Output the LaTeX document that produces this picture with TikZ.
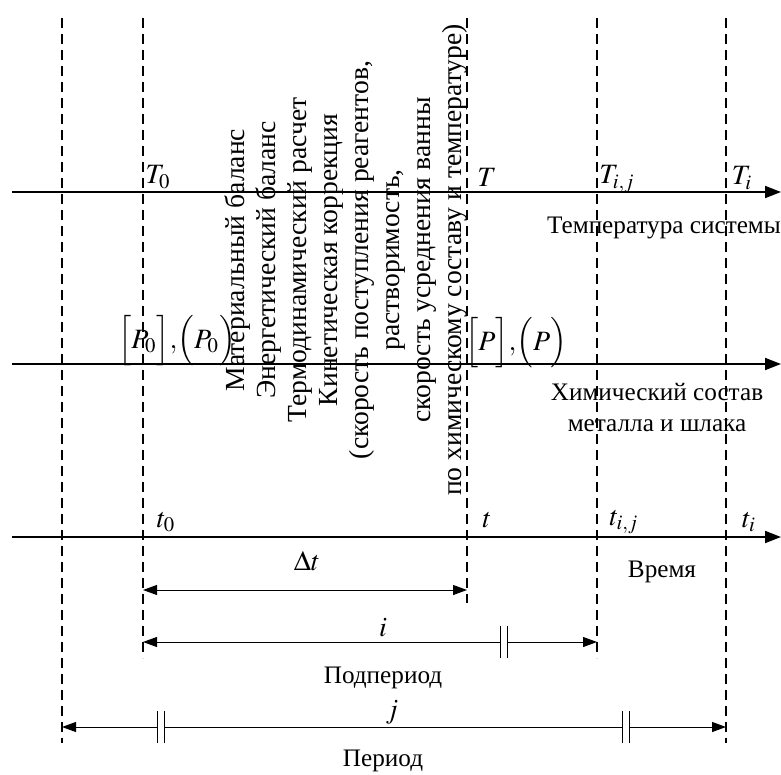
\documentclass[tikz,border=0pt]{standalone}
\usepackage{mathptmx}
\usepackage{fontspec}
\setmainfont{Liberation Serif}
\usetikzlibrary{arrows.meta}

\begin{document}
\begin{tikzpicture}[x=0.5pt, y=-0.5pt]

\tikzset{%
every node/.style={inner sep=0pt, font=\fontsize{12.6}{15.5}\selectfont},%
axis/.style={-{Triangle[length=8pt, width=6pt]}, line width=.9pt},%
guide/.style={line width=.8pt, dash pattern=on 5pt off 3pt},%
dim/.style={line width=.5pt},%
tipL/.style={{Triangle[length=7pt, width=5pt]}-},%
tipR/.style={-{Triangle[length=7pt, width=5pt]}},%
tipLR/.style={{Triangle[length=7pt, width=5pt]}-{Triangle[length=7pt, width=5pt]}},%
brk/.style={line width=.5pt},%
mathlbl/.style={font=\fontsize{14}{16}\selectfont}%
}

\useasboundingbox (0,0) rectangle (781,775);

% vertical guides
\coordinate (g1t) at (62,18);  \coordinate (g1b) at (62,743);
\coordinate (g2t) at (143,18); \coordinate (g2b) at (143,658);
\coordinate (g3t) at (467,18); \coordinate (g3b) at (467,603);
\coordinate (g4t) at (597,18); \coordinate (g4b) at (597,658);
\coordinate (g5t) at (726,18); \coordinate (g5b) at (726,743);
\draw[guide] (g1t) -- (g1b);
\draw[guide] (g2t) -- (g2b);
\draw[guide] (g3t) -- (g3b);
\draw[guide] (g4t) -- (g4b);
\draw[guide] (g5t) -- (g5b);

% axes
\coordinate (tempL) at (12,192); \coordinate (tempR) at (781,192);
\coordinate (chemL) at (12,364); \coordinate (chemR) at (781,364);
\coordinate (timeL) at (12,537); \coordinate (timeR) at (781,537);
\draw[axis] (tempL) -- (tempR);
\draw[axis] (chemL) -- (chemR);
\draw[axis] (timeL) -- (timeR);

\node[mathlbl] (T0) at (158,177) {$T_0$};
\node[mathlbl] (T) at (487,177) {$T$};
\node[mathlbl] (Tij) at (617,179) {$T_{i,j}$};
\node[mathlbl] (Ti) at (742,178) {$T_i$};
\node (temp) at (664,228) {Температура системы};

\node[mathlbl] (P0) at (177,341) {$\Bigl[P_0\Bigr]{,}\Bigl(P_0\Bigr)$};
\node[mathlbl] (P) at (516,343) {$\Bigl[P\Bigr]{,}\Bigl(P\Bigr)$};
\node[align=center] (chem) at (657,407) {Химический состав\\металла и шлака};

\node[mathlbl] (t0) at (166,522) {$t_0$};
\node[mathlbl] (t) at (487,520) {$t$};
\node[mathlbl] (tij) at (624,522) {$t_{i,j}$};
\node[mathlbl] (ti) at (749,522) {$t_i$};
\node (time) at (662,572) {Время};

% calculation steps
\node[rotate=90, align=center, font=\fontsize{13.8}{15.5}\selectfont] (calc) at (346,260) {Материальный баланс\\
Энергетический баланс\\
Термодинамический расчет\\
Кинетическая коррекция\\
(скорость поступления реагентов,\\
растворимость,\\
скорость усреднения ванны\\
по химическому составу и температуре)};

% step dt
\coordinate (dtL) at (143,590); \coordinate (dtR) at (467,590);
\draw[dim, tipLR] (dtL) -- (dtR);
\node[mathlbl] (dt) at (307,561) {$\Delta t$};

% subperiod i
\coordinate (iL) at (143,642); \coordinate (iR) at (597,642);
\coordinate (iB1) at (500,642); \coordinate (iB2) at (507,642);
\draw[dim, tipL] (iL) -- (iB1);
\draw[dim, tipR] (iB2) -- (iR);
\draw[brk] ([yshift=-8pt]iB1) -- ([yshift=8pt]iB1);
\draw[brk] ([yshift=-8pt]iB2) -- ([yshift=8pt]iB2);
\node[mathlbl] (i) at (383,628) {$i$};
\node (sub) at (383,678) {Подпериод};

% period j
\coordinate (jL) at (62,727); \coordinate (jR) at (726,727);
\coordinate (jB1) at (157,727); \coordinate (jB2) at (164,727);
\coordinate (jB3) at (622,727); \coordinate (jB4) at (629,727);
\draw[dim, tipL] (jL) -- (jB1);
\draw[dim] (jB2) -- (jB3);
\draw[dim, tipR] (jB4) -- (jR);
\foreach \b in {jB1,jB2,jB3,jB4}
  \draw[brk] ([yshift=-8pt]\b) -- ([yshift=8pt]\b);
\node[mathlbl] (j) at (392,712) {$j$};
\node (per) at (383,761) {Период};

\end{tikzpicture}
\end{document}
